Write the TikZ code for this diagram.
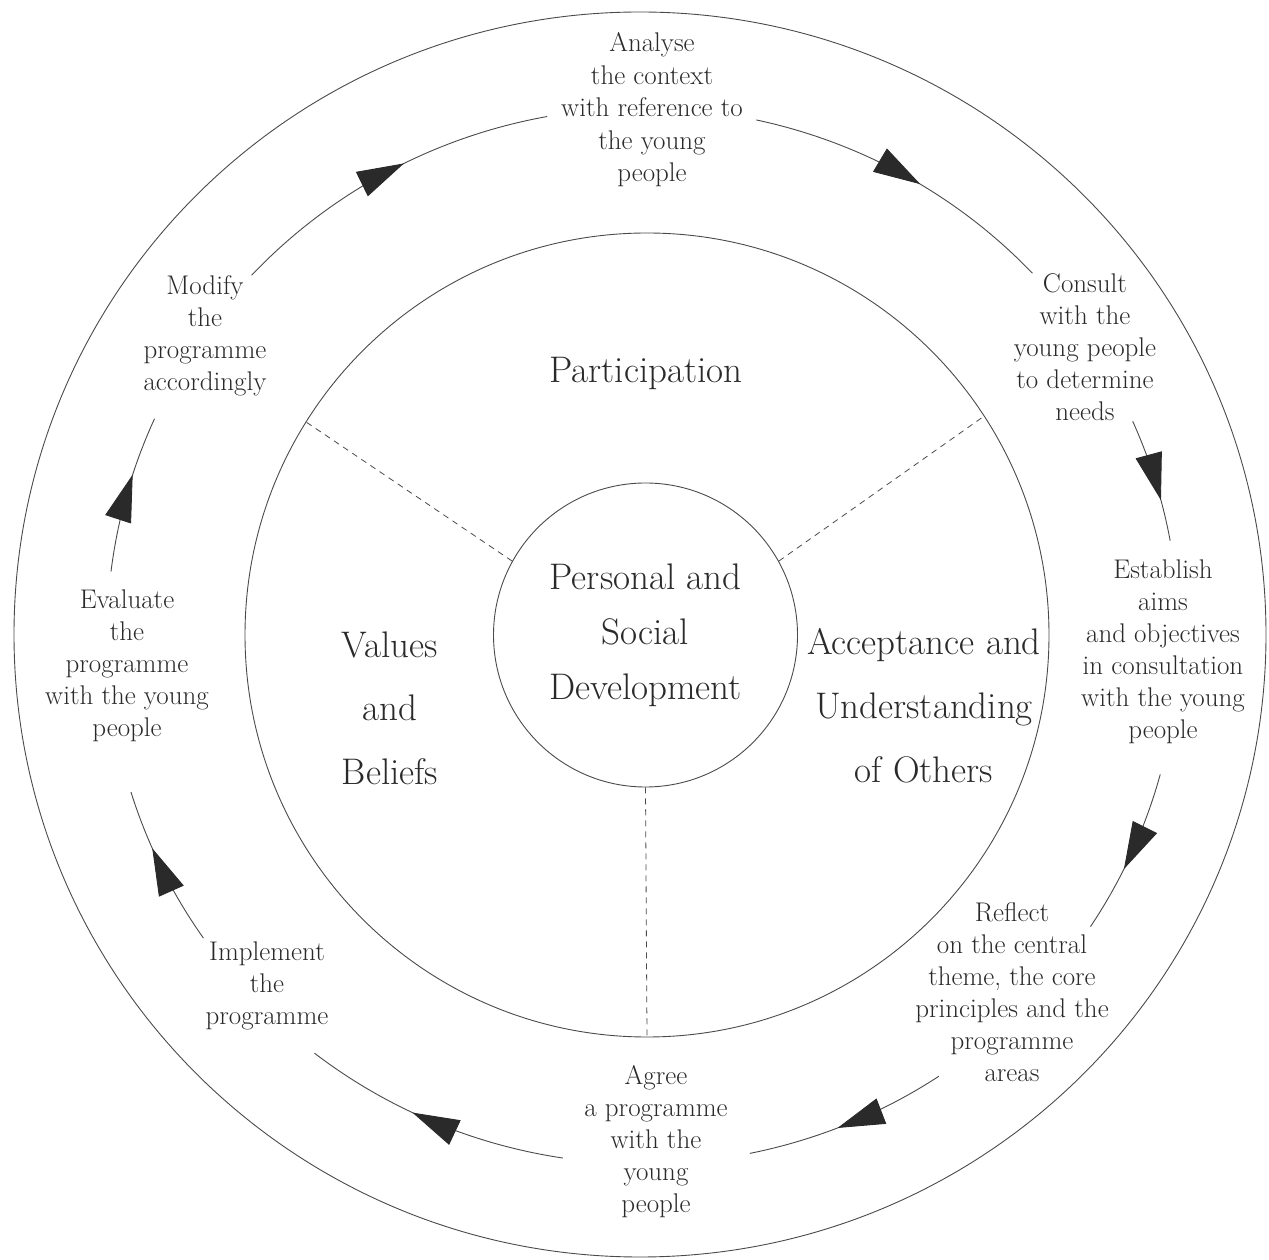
\documentclass[tikz,border=0pt]{standalone}
\usetikzlibrary{arrows.meta,decorations.markings}
\definecolor{ink}{HTML}{2A2A2A}
\definecolor{linec}{HTML}{4A4A4A}
\begin{document}
\begin{tikzpicture}[x=1pt,y=1pt,
  small/.style={text=ink, align=center, font=\fontsize{27}{32}\selectfont},
  big/.style={text=ink, align=center, font=\fontsize{37}{63.5}\selectfont},
  cycline/.style={draw=linec, line width=0.9pt},
  cyc/.style={cycline, postaction={decorate},
    decoration={markings, mark=at position #1 with {\arrow{Triangle[length=47pt,width=27pt,color=ink,fill=ink]}}}},
  divider/.style={draw=linec, line width=0.8pt, dash pattern=on 6pt off 5pt},
  ring/.style={circle, draw=linec, line width=0.9pt, inner sep=0pt}
  ]
\useasboundingbox (0,0) rectangle (1269,1259);
% outer circle
\draw[linec, line width=0.9pt] (640,624.5) ellipse [x radius=626pt, y radius=622.5pt];
% inner circles
\node[ring, minimum size=804pt] (ring) at (647,624) {};
\node[ring, minimum size=304pt, text=ink, align=center, font=\fontsize{37}{55}\selectfont] (core) at (645.5,624) {Personal and\\Social\\Development};
% dividers
\draw[divider] (core.151) -- (ring.148);
\draw[divider] (core.29) -- (ring.33);
\draw[divider] (core.270) -- (ring.270);
% sector labels
\node[big] (part) at (646,886) {Participation};
\node[big] (vals) at (390,551) {Values\\and\\Beliefs};
\node[big, font=\fontsize{37}{64}\selectfont] (acc) at (924,553) {Acceptance and\\Understanding\\of Others};
% cycle labels
\node[small, font=\fontsize{27}{32.5}\selectfont] (analyse) at (652,1149) {Analyse\\the context\\with reference to\\the young\\people};
\node[small] (consult) at (1085,912) {Consult\\with the\\young people\\to determine\\needs};
\node[small] (establish) at (1163,607) {Establish\\aims\\and objectives\\in consultation\\with the young\\people};
\node[small] (reflect) at (1012,267) {Reflect\\on the central\\theme, the core\\principles and the\\programme\\areas};
\node[small] (agree) at (656,117) {Agree\\a programme\\with the\\young\\people};
\node[small] (implement) at (267,273) {Implement\\the\\programme};
\node[small] (evaluate) at (127,593) {Evaluate\\the\\programme\\with the young\\people};
\node[small] (modify) at (205,923) {Modify\\the\\programme\\accordingly};
% cycle arcs
\coordinate (C) at (643,623);
\draw[cyc=0.557] (C) ++(136.9:536pt and 528pt) arc[start angle=136.9, end angle=100.3, x radius=536pt, y radius=528pt];
\draw[cyc=0.552] (C) ++(77.8:536pt and 528pt) arc[start angle=77.8, end angle=43.4, x radius=536pt, y radius=528pt];
\draw[cyc=0.669] (C) ++(24.0:536pt and 528pt) arc[start angle=24.0, end angle=10.4, x radius=536pt, y radius=528pt];
\draw[cyc=0.604] (C) ++(-15.2:536pt and 528pt) arc[start angle=-15.2, end angle=-33.4, x radius=536pt, y radius=528pt];
\draw[cyc=0.555] (C) ++(-56.5:536pt and 528pt) arc[start angle=-56.5, end angle=-78.5, x radius=536pt, y radius=528pt];
\draw[cyc=0.579] (C) ++(-98.6:536pt and 528pt) arc[start angle=-98.6, end angle=-127.8, x radius=536pt, y radius=528pt];
\draw[cyc=0.633] (C) ++(214.9:536pt and 528pt) arc[start angle=214.9, end angle=197.2, x radius=536pt, y radius=528pt];
\draw[cyc=0.624] (C) ++(173.0:536pt and 528pt) arc[start angle=173.0, end angle=155.7, x radius=536pt, y radius=528pt];
\end{tikzpicture}
\end{document}
